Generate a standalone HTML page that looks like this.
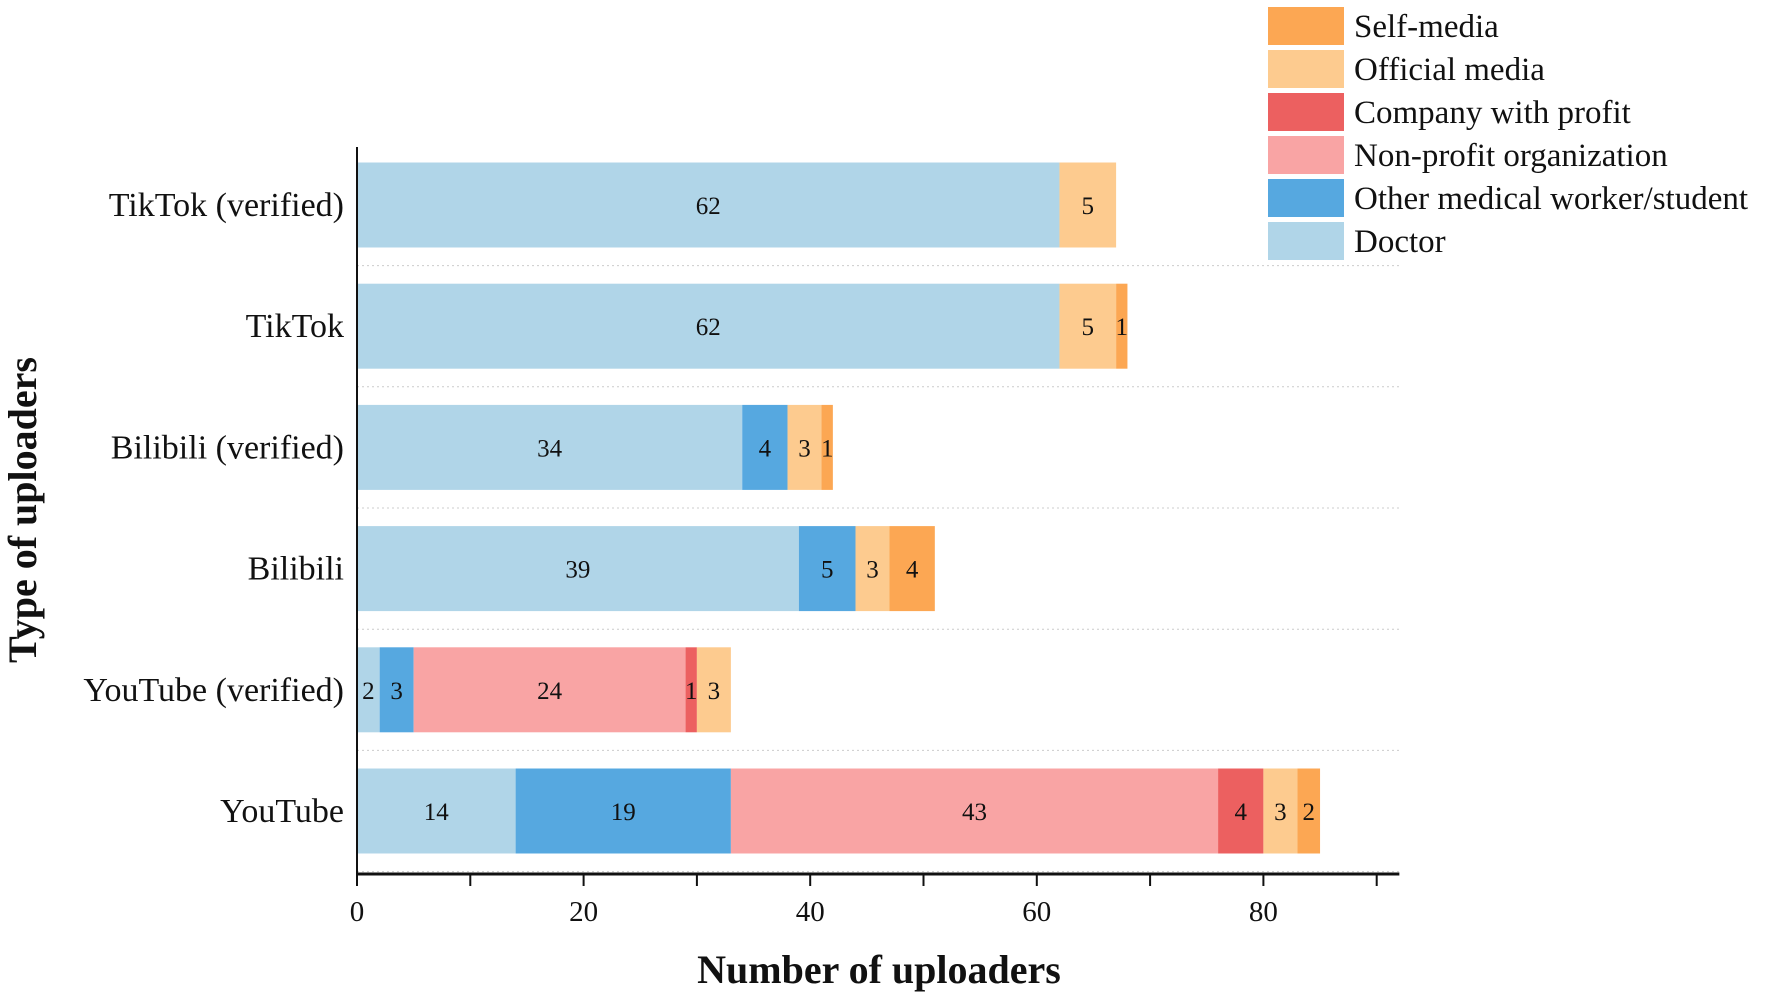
<!DOCTYPE html>
<html><head><meta charset="utf-8"><style>
body{margin:0;background:#fff;}
svg text{font-family:"Liberation Serif",serif;}
</style></head><body>
<svg id="c" width="1772" height="996" xmlns="http://www.w3.org/2000/svg"></svg>
<script>
const categories=["TikTok (verified)","TikTok","Bilibili (verified)","Bilibili","YouTube (verified)","YouTube"];
const seriesNames=["Doctor","Other medical worker/student","Non-profit organization","Company with profit","Official media","Self-media"];
const doctor=[62,62,34,39,2,14];
const otherMed=[0,0,4,5,3,19];
const nonProfit=[0,0,0,0,24,43];
const company=[0,0,0,0,1,4];
const official=[5,5,3,3,3,3];
const selfMedia=[0,1,1,4,0,2];
const xTicks=[0,20,40,60,80];
const colors=["#b0d5e8","#56a8e0","#f9a4a4","#ec6060","#fdcb8f","#fca753"];
const series=[doctor,otherMed,nonProfit,company,official,selfMedia];
const NS="http://www.w3.org/2000/svg";
const svg=document.getElementById('c');
const x0=357,pxPerUnit=11.33,xMax=92;
const X=v=>x0+v*pxPerUnit;
const yTop=147,yBot=874,band=121.2,firstC=205,barH=85;
const Y=i=>firstC+i*band;
function el(t,a,p){const e=document.createElementNS(NS,t);for(const k in a)e.setAttribute(k,a[k]);(p||svg).appendChild(e);return e;}
for(let i=0;i<categories.length;i++){
 const g=el('line',{x1:x0,x2:X(xMax),y1:Y(i)+band/2,y2:Y(i)+band/2,stroke:'#ccc','stroke-dasharray':'2,3','stroke-width':1});
 
 
}
categories.forEach((c,i)=>{
 let acc=0;
 series.forEach((s,j)=>{
  const v=s[i]; if(!v){return;}
  const r=el('rect',{x:X(acc),y:Y(i)-barH/2,width:v*pxPerUnit,height:barH,fill:colors[j]});
  
  
  const t=el('text',{x:X(acc+v/2),y:Y(i)+9,'font-size':25,'text-anchor':'middle',fill:'#111'});
  t.textContent=v;
  
  
  acc+=v;
 });
 const l=el('text',{x:344,y:Y(i)+11,'font-size':34,'text-anchor':'end',fill:'#111'});
 l.textContent=c;
 
 
});
const ya=el('line',{x1:x0,x2:x0,y1:yTop,y2:yBot,stroke:'#111','stroke-width':2});


const xa=el('line',{x1:x0-1,x2:X(xMax),y1:yBot,y2:yBot,stroke:'#111','stroke-width':3});


for(let v=0;v<=90;v+=10){
 const t=el('line',{x1:X(v),x2:X(v),y1:yBot,y2:yBot+12,stroke:'#111','stroke-width':2});
 
 
}
xTicks.forEach(v=>{
 const t=el('text',{x:X(v),y:yBot+47,'font-size':29,'text-anchor':'middle',fill:'#111'});
 t.textContent=v;
 
 
});
const xt=el('text',{x:879,y:983,'font-size':40,'font-weight':'bold','text-anchor':'middle',fill:'#111'});
xt.textContent='Number of uploaders';


const yt=el('text',{x:0,y:0,'font-size':40,'font-weight':'bold','text-anchor':'middle',fill:'#111',transform:'translate(36,510) rotate(-90)'});
yt.textContent='Type of uploaders';


for(let k=0;k<6;k++){
 const j=5-k, y=7+k*43;
 const r=el('rect',{x:1268,y:y,width:76,height:38,fill:colors[j]});
 
 
 const t=el('text',{x:1354,y:y+30,'font-size':33,fill:'#111'});
 t.textContent=seriesNames[j];
 
 
}
</script>
</body></html>
